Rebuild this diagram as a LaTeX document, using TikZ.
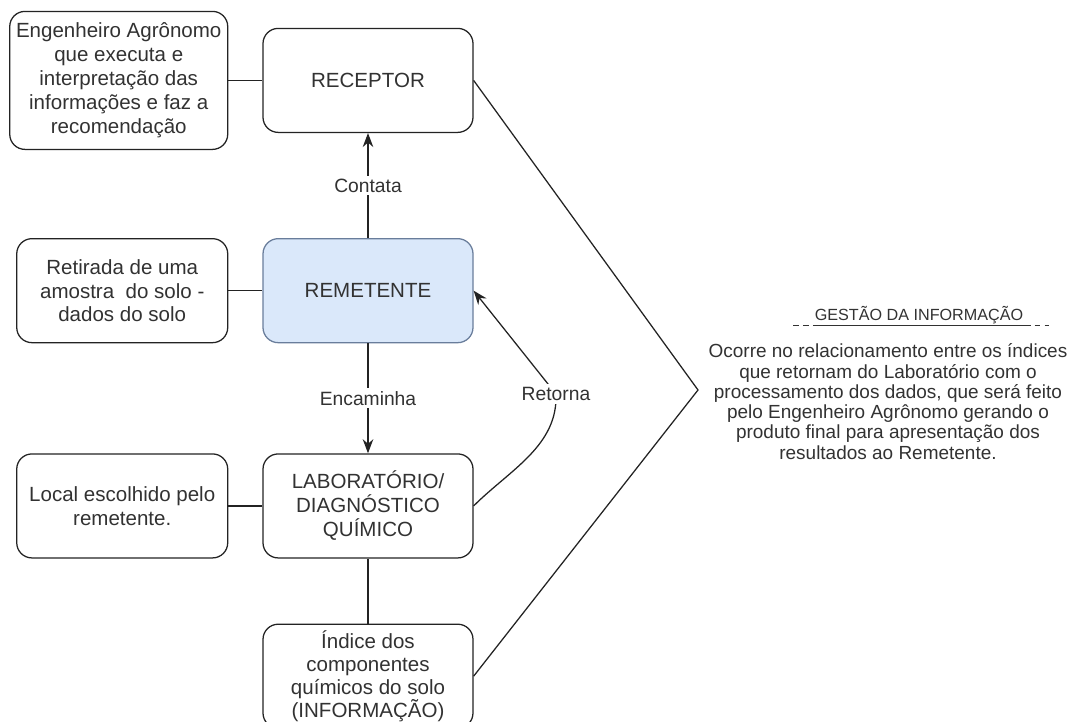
\documentclass[tikz,border=0pt]{standalone}
\usepackage{fontspec}
\setmainfont{Liberation Sans}
\usetikzlibrary{
    arrows.meta,
    positioning,
    calc
}
\definecolor{inkgray}{RGB}{35,35,35}
\definecolor{textgray}{RGB}{50,50,50}
\definecolor{senderfill}{RGB}{218,232,250}
\definecolor{senderdraw}{RGB}{105,125,155}
\tikzset{
    % Boxes
    stepbox/.style={
        rectangle,
        draw=inkgray,
        line width=0.9pt,
        fill=white,
        rounded corners=0.38cm,
        minimum width=5.25cm,
        minimum height=2.6cm,
        inner xsep=2pt,
        align=center,
        text=textgray,
        font=\fontsize{14.6}{17}\selectfont
    },
    notebox/.style={
        stepbox,
        minimum width=5.275cm
    },
    senderbox/.style={
        stepbox,
        fill=senderfill,
        draw=senderdraw
    },
    % Connectors
    arrow/.style={
        -{Stealth[length=10pt,width=7.5pt]},
        line width=0.9pt,
        draw=inkgray
    },
    plainline/.style={
        line width=0.9pt,
        draw=inkgray
    },
    % Labels
    edgelabel/.style={
        fill=white,
        inner sep=2pt,
        text=textgray,
        font=\fontsize{13.7}{16}\selectfont
    },
    titletext/.style={
        inner sep=1pt,
        text=textgray,
        font=\fontsize{11.5}{13}\selectfont
    },
    bodytext/.style={
        align=center,
        inner sep=0pt,
        text=textgray,
        font=\fontsize{13.5}{14.4}\selectfont
    },
    underdash/.style={
        textgray,
        line width=0.6pt,
        dash pattern=on 4pt off 3pt
    }
}

\begin{document}
\begin{tikzpicture}[
    node distance=2.625cm and 0.85cm
]
    \useasboundingbox (0,0) rectangle (26.95,-18.05);

    % Main column
    \node[stepbox] (receptor) at (9.2,-2.01) {RECEPTOR};
    \node[senderbox, below=2.625cm of receptor] (remetente) {REMETENTE};
    \node[stepbox, below=2.75cm of remetente] (lab) {LABORATÓRIO/\\DIAGNÓSTICO\\QUÍMICO};
    \node[stepbox, below=1.625cm of lab, font=\fontsize{14.6}{16.5}\selectfont] (indice) {Índice dos\\componentes\\químicos do solo\\(INFORMAÇÃO)};

    % Left notes
    \node[notebox, left=0.85cm of receptor, minimum width=5.45cm, minimum height=3.45cm] (engenheiro) {Engenheiro Agrônomo\\que executa e\\interpretação das\\informações e faz a\\recomendação};
    \node[notebox, left=0.85cm of remetente] (retirada) {Retirada de uma\\amostra\ \ do solo -\\dados do solo};
    \node[notebox, left=0.85cm of lab] (local) {Local escolhido pelo\\remetente.};

    % Information management
    \coordinate (apex) at (17.45,-9.75);
    \node[titletext] (gestao) at (22.975,-7.875) {GESTÃO DA INFORMAÇÃO};
    \node[bodytext] (ocorre) at (22.2,-10.04) {Ocorre no relacionamento entre os índices\\que retornam do Laboratório com o\\processamento dos dados, que será feito\\pelo Engenheiro Agrônomo gerando o\\produto final para apresentação dos\\resultados ao Remetente.};
    \draw[textgray, line width=0.6pt] (gestao.south west) -- (gestao.south east);
    \draw[underdash] ($(gestao.south west)+(-0.5,0)$) -- (gestao.south west);
    \draw[underdash] (gestao.south east) -- ($(gestao.south east)+(0.6,0)$);

    % Flow
    \draw[arrow] (remetente) -- node[edgelabel] {Contata} (receptor);
    \draw[arrow] (remetente) -- node[edgelabel] {Encaminha} (lab);
    \draw[plainline] (lab) -- (indice);

    % Notes
    \draw[plainline] (engenheiro) -- (receptor);
    \draw[plainline] (retirada) -- (remetente);
    \draw[plainline] (local) -- (lab);

    % Return
    \coordinate (retbend) at (13.9,-9.85);
    \draw[arrow] (lab.east) .. controls +(0.9,0.9) and +(0.05,-1.3) .. (retbend) -- (remetente.east);
    \node[edgelabel] (retorna) at (retbend) {Retorna};

    % Bracket
    \draw[plainline] (receptor.east) -- (apex) -- (indice.east);

\end{tikzpicture}
\end{document}
